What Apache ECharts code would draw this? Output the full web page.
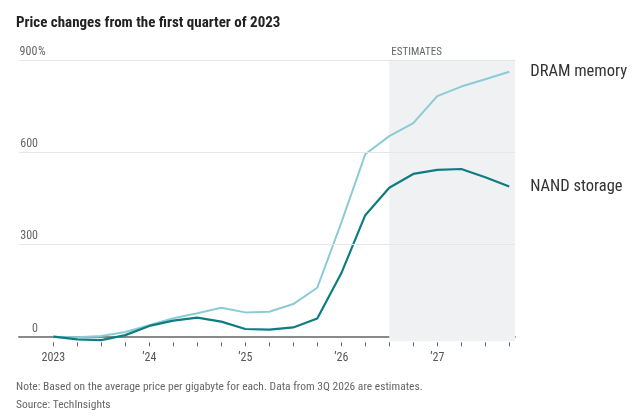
<!DOCTYPE html>
<html>
<head>
<meta charset="utf-8">
<script src="https://cdn.jsdelivr.net/npm/echarts@6/dist/echarts.min.js"></script>
<style>
  html, body { margin: 0; padding: 0; background: #fff; }
  #chart { width: 642px; height: 418px; }
</style>
</head>
<body>
<div id="chart"></div>
<script>
// quarters 1Q 2023 .. 4Q 2027, % change vs 1Q 2023
const quarters = ['1Q23','2Q23','3Q23','4Q23','1Q24','2Q24','3Q24','4Q24','1Q25','2Q25','3Q25','4Q25',
  '1Q26','2Q26','3Q26','4Q26','1Q27','2Q27','3Q27','4Q27']
const dram = [0, -2, 2, 15, 37, 60, 76, 94, 79, 81, 106, 159, 370, 593, 652, 694, 782, 813, 837, 861]
const nand = [0, -9, -11, 5, 35, 52, 62, 49, 25, 23, 30, 59, 206, 395, 484, 529, 542, 545, 518, 488]
const yTicks = [0, 300, 600, 900]
const xTickLabels = { 0: '2023', 4: '\u201924', 8: '\u201925', 12: '\u201926', 16: '\u201927' }
const estimateStart = 14 // 3Q 2026

const FONT = '"Liberation Sans Narrow", "Roboto Condensed", Roboto, sans-serif'
const X_MIN = -1.43, X_MAX = 19.24

const chart = echarts.init(document.getElementById('chart'))

const toPairs = arr => arr.map((v, i) => [i, v])

chart.setOption({
  animation: false,
  textStyle: { fontFamily: FONT },
  title: [
    { text: 'Price changes from the first quarter of 2023', left: 11, top: 11,
      textStyle: { fontFamily: FONT, fontSize: 15, fontWeight: 'bold', color: '#222' } },
    { text: 'Note: Based on the average price per gigabyte for each. Data from 3Q 2026 are estimates.\nSource: TechInsights',
      left: 11, top: 373,
      textStyle: { fontFamily: FONT, fontSize: 11.5, fontWeight: 'normal', color: '#666', lineHeight: 18 } }
  ],
  grid: { left: 19, right: 127, top: 59.8, bottom: 76.7 },
  xAxis: [
    {
      type: 'value', min: X_MIN, max: X_MAX,
      axisLine: { show: true, onZero: true, lineStyle: { color: '#8a8a8a', width: 2 } },
      axisTick: { show: false }, axisLabel: { show: false }, splitLine: { show: false }
    },
    {
      type: 'value', min: X_MIN, max: X_MAX, position: 'bottom', offset: 1,
      axisLine: { show: false, onZero: false },
      axisTick: { show: true, length: 4, customValues: quarters.map((q, i) => i),
        lineStyle: { color: '#666', width: 1 } },
      axisLabel: { show: true, customValues: Object.keys(xTickLabels).map(Number),
        formatter: v => xTickLabels[v] || '', margin: 10, fontSize: 12, color: '#555', fontFamily: FONT },
      splitLine: { show: false }
    }
  ],
  yAxis: {
    type: 'value', min: -15, max: 900,
    axisLine: { show: false }, axisTick: { show: false },
    splitLine: { show: false },
    axisLabel: {
      show: true, inside: true, margin: 0, customValues: yTicks,
      verticalAlign: 'bottom', padding: [0, 0, 2, 0],
      formatter: v => v === 900 ? '{n|900}{p|%}' : '{n|' + v + '}',
      rich: {
        n: { width: 19, align: 'right', fontSize: 12, color: '#666', fontFamily: FONT },
        p: { fontSize: 12, color: '#666', fontFamily: FONT }
      }
    }
  },
  series: [
    {
      name: 'estimates', type: 'line', data: [], z: 1, silent: true,
      markArea: {
        silent: true,
        itemStyle: { color: '#f0f1f2' },
        label: { show: true, position: [2, -13], formatter: 'ESTIMATES', color: '#666', fontSize: 11, fontFamily: FONT },
        data: [[{ xAxis: estimateStart, yAxis: 900 }, { xAxis: X_MAX, yAxis: -15 }]]
      }
    },
    {
      name: 'grid', type: 'line', data: [], z: 2, silent: true,
      markLine: {
        silent: true, symbol: 'none', label: { show: false },
        lineStyle: { color: '#e6e6e6', width: 1, type: 'solid' },
        data: yTicks.filter(v => v > 0).map(v => ({ yAxis: v }))
      }
    },
    {
      name: 'DRAM memory', type: 'line', data: toPairs(dram), z: 3,
      showSymbol: false, lineStyle: { color: '#8ccbd6', width: 2 },
      endLabel: { show: true, formatter: '{a}', distance: 21, fontSize: 16.5, color: '#333', fontFamily: FONT }
    },
    {
      name: 'NAND storage', type: 'line', data: toPairs(nand), z: 4,
      showSymbol: false, lineStyle: { color: '#0e7d82', width: 2.2 },
      endLabel: { show: true, formatter: '{a}', distance: 21, fontSize: 16.5, color: '#333', fontFamily: FONT }
    }
  ]
})
</script>
</body>
</html>
